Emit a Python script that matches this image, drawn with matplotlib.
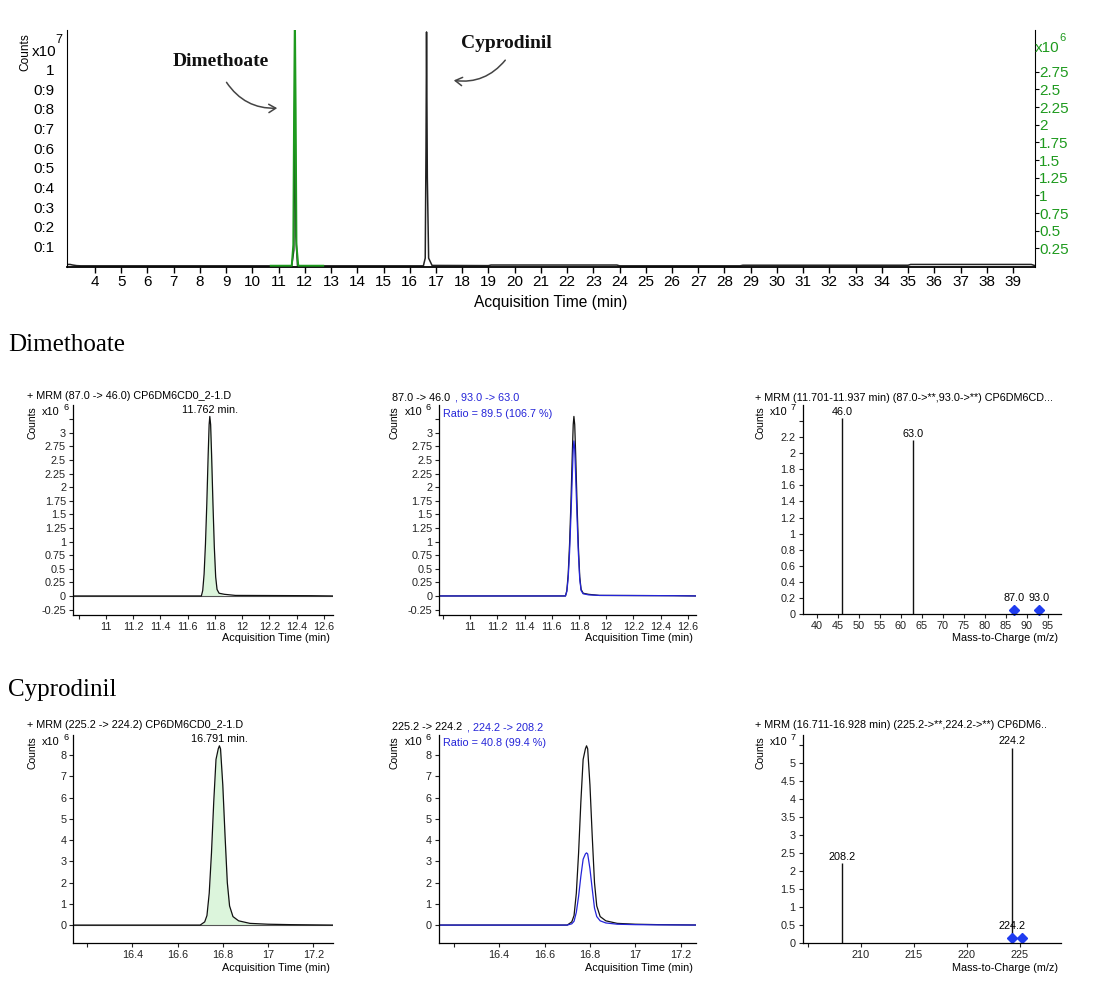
import matplotlib
matplotlib.use('Agg')
import matplotlib.pyplot as plt
from matplotlib.patches import FancyArrowPatch

W, H = 1114, 981
SANS = 'Liberation Sans'
SERIF = 'Liberation Serif'
BLACK = '#111111'
GREEN = '#1e9a1e'
BLUE = '#2424d8'
FILL = '#dcf5dc'

# overview run: total signal (x10^7, left axis) and extracted ion (x10^6, right axis)
tic_time = [2.92, 3.05, 3.15, 3.30, 3.45, 11.50, 11.58, 11.62, 11.66, 11.72, 16.52, 16.59,
            16.62, 16.64, 16.67, 16.72, 16.85, 19.0, 19.1, 23.9, 24.0, 28.6, 28.7, 35.0,
            35.1, 39.7, 39.84]
tic_counts = [0.008, 0.008, 0.005, 0.002, 0.001, 0.001, 0.08, 0.95, 0.15, 0.001, 0.001, 0.04,
              0.6, 1.19, 0.45, 0.04, 0.003, 0.002, 0.005, 0.005, 0.001, 0.001, 0.004, 0.004,
              0.008, 0.008, 0.002]
ion_time = [10.70, 11.50, 11.56, 11.59, 11.62, 11.65, 11.68, 11.75, 12.70]
ion_counts = [0.004, 0.004, 0.3, 2.2, 3.6, 2.2, 0.3, 0.004, 0.004]

top_xticks = list(range(4, 40))
top_left_ticks = [0.1, 0.2, 0.3, 0.4, 0.5, 0.6, 0.7, 0.8, 0.9, 1.0]
top_left_labels = ['0:1', '0:2', '0:3', '0:4', '0:5', '0:6', '0:7', '0:8', '0:9', '1']
top_right_ticks = [0.25, 0.5, 0.75, 1.0, 1.25, 1.5, 1.75, 2.0, 2.25, 2.5, 2.75]
top_right_labels = ['0.25', '0.5', '0.75', '1', '1.25', '1.5', '1.75', '2', '2.25', '2.5', '2.75']

# Dimethoate extracted chromatograms (x10^6)
dim_time = [10.76, 11.60, 11.70, 11.71, 11.72, 11.73, 11.74, 11.75, 11.757, 11.762, 11.768,
            11.775, 11.785, 11.795, 11.805, 11.815, 11.83, 11.87, 11.95, 12.50, 12.67]
dim_quant = [0.0, 0.0, 0.0, 0.1, 0.4, 0.95, 1.7, 2.6, 3.15, 3.30, 3.15,
             2.6, 1.7, 0.9, 0.35, 0.12, 0.05, 0.03, 0.01, 0.005, 0.0]
dim_qual = [0.0, 0.0, 0.0, 0.08, 0.33, 0.8, 1.45, 2.2, 2.7, 2.85, 2.7,
            2.2, 1.45, 0.78, 0.3, 0.1, 0.04, 0.02, 0.01, 0.005, 0.0]
dim_rt = 11.762
dim_mz = [46.0, 63.0]
dim_abund = [2.43, 2.16]          # x10^7
dim_prec_mz = [87.0, 93.0]
dim_prec_abund = [0.05, 0.05]

# Cyprodinil extracted chromatograms (x10^6)
cyp_time = [16.14, 16.70, 16.72, 16.73, 16.74, 16.75, 16.76, 16.77, 16.78, 16.785, 16.79,
            16.80, 16.81, 16.82, 16.83, 16.845, 16.87, 16.92, 17.00, 17.10, 17.29]
cyp_quant = [0.0, 0.0, 0.15, 0.45, 1.5, 3.4, 5.8, 7.8, 8.3, 8.44, 8.3,
             6.6, 4.2, 2.0, 0.9, 0.4, 0.2, 0.08, 0.04, 0.02, 0.0]
cyp_qual = [0.0, 0.0, 0.06, 0.18, 0.6, 1.35, 2.3, 3.1, 3.35, 3.4, 3.35,
            2.65, 1.7, 0.8, 0.4, 0.2, 0.1, 0.04, 0.02, 0.01, 0.0]
cyp_rt = 16.785
cyp_mz = [208.2, 224.2]
cyp_abund = [2.21, 5.44]          # x10^7
cyp_prec_mz = [224.2, 225.2]
cyp_prec_abund = [0.12, 0.12]

rt_label = {'dim': '11.762', 'cyp': '16.791'}

fig = plt.figure(figsize=(W / 100, H / 100), dpi=100)
plt.rcParams['font.family'] = [SANS, 'DejaVu Sans']


def rect(l, t, r, b):
    return [l / W, 1 - b / H, (r - l) / W, (b - t) / H]


def ftext(x, y, s, **kw):
    return fig.text(x / W, 1 - y / H, s, **kw)


# ---------------- overview chromatogram ----------------
ax = fig.add_axes(rect(66.7, 30, 1035, 267))
ax.plot(tic_time, tic_counts, color='#222222', lw=1.1)
ax.set_xlim(2.92, 39.84)
ax.set_ylim(-0.005, 1.2)
ax.set_xticks(top_xticks)
ax.set_xticklabels([str(t) for t in top_xticks])
ax.set_yticks(top_left_ticks)
ax.set_yticklabels(top_left_labels)
ax.tick_params(axis='x', length=4, width=1, labelsize=11, pad=2)
ax.tick_params(axis='y', length=0, labelsize=11, pad=9)
for s in ('top', 'right'):
    ax.spines[s].set_visible(False)
ax.spines['bottom'].set_linewidth(1.3)
ax.set_xlabel('Acquisition Time (min)', fontsize=11.2, labelpad=4)

ax2 = ax.twinx()
ax2.plot(ion_time, ion_counts, color=GREEN, lw=1.4)
ax2.set_ylim(-0.014, 3.34)
ax2.set_yticks(top_right_ticks)
ax2.set_yticklabels(top_right_labels)
ax2.tick_params(axis='y', length=3, pad=0, labelsize=11, labelcolor=GREEN)
for s in ('top', 'left', 'bottom'):
    ax2.spines[s].set_visible(False)

ftext(25, 52, 'Counts', rotation=90, ha='center', va='center', fontsize=8.6)
ftext(32, 52, 'x10', ha='left', va='center', fontsize=11)
ftext(55, 40, '7', ha='left', va='center', fontsize=9)
ftext(1035, 48, 'x10', ha='left', va='center', fontsize=11, color=GREEN)
ftext(1059, 38, '6', ha='left', va='center', fontsize=8, color=GREEN)

ftext(221, 61, 'Dimethoate', family=SERIF, fontweight='bold', fontsize=14,
      ha='center', va='center', color='#111111')
ftext(506, 43, 'Cyprodinil', family=SERIF, fontweight='bold', fontsize=14,
      ha='center', va='center', color='#111111')
arrow_kw = dict(arrowstyle='->,head_length=5,head_width=3', color='#444444', lw=1.1,
                transform=None)
fig.add_artist(FancyArrowPatch((225, H - 80), (280, H - 108),
                               connectionstyle='arc3,rad=0.3', **arrow_kw))
fig.add_artist(FancyArrowPatch((507, H - 58), (451, H - 80),
                               connectionstyle='arc3,rad=-0.3', **arrow_kw))

ftext(8, 345, 'Dimethoate', family=SERIF, fontsize=18, ha='left', va='center')
ftext(8, 690, 'Cyprodinil', family=SERIF, fontsize=18, ha='left', va='center')


# ---------------- small panels ----------------
def small_axes(box, xlim, ylim, xticks, xlabels, yticks, ylabels):
    a = fig.add_axes(rect(*box))
    a.set_xlim(*xlim)
    a.set_ylim(*ylim)
    a.set_xticks(xticks)
    a.set_xticklabels(xlabels)
    a.set_yticks(yticks)
    a.set_yticklabels(ylabels)
    a.tick_params(labelsize=7.8, length=3, width=0.8, pad=2, colors='#222222')
    for s in ('top', 'right'):
        a.spines[s].set_visible(False)
    for s in ('left', 'bottom'):
        a.spines[s].set_linewidth(0.9)
    return a


def panel_text(x0, y0, power, xlabel, right):
    ftext(x0, y0 + 27, 'Counts', rotation=90, ha='center', va='center', fontsize=7.5)
    ftext(x0 + 10, y0 + 16, 'x10', ha='left', va='center', fontsize=7.8)
    ftext(x0 + 31, y0 + 12, power, ha='left', va='center', fontsize=6.5)
    ftext(right, y0 + 242, xlabel, ha='right', va='center', fontsize=7.8)


chrom_x1 = [10.8, 11.0, 11.2, 11.4, 11.6, 11.8, 12.0, 12.2, 12.4, 12.6]
chrom_x1_lab = ['', '11', '11.2', '11.4', '11.6', '11.8', '12', '12.2', '12.4', '12.6']
chrom_y1 = [-0.25, 0, 0.25, 0.5, 0.75, 1.0, 1.25, 1.5, 1.75, 2.0, 2.25, 2.5, 2.75, 3.0, 3.25]
chrom_y1_lab = ['-0.25', '0', '0.25', '0.5', '0.75', '1', '1.25', '1.5', '1.75', '2',
                '2.25', '2.5', '2.75', '3', '']
chrom_x2 = [16.2, 16.4, 16.6, 16.8, 17.0, 17.2]
chrom_x2_lab = ['', '16.4', '16.6', '16.8', '17', '17.2']
chrom_y2 = [0, 1, 2, 3, 4, 5, 6, 7, 8]
chrom_y2_lab = ['0', '1', '2', '3', '4', '5', '6', '7', '8']
ms_x1 = [40, 45, 50, 55, 60, 65, 70, 75, 80, 85, 90, 95]
ms_y1 = [0, 0.2, 0.4, 0.6, 0.8, 1.0, 1.2, 1.4, 1.6, 1.8, 2.0, 2.2, 2.4]
ms_y1_lab = ['0', '0.2', '0.4', '0.6', '0.8', '1', '1.2', '1.4', '1.6', '1.8', '2', '2.2', '']
ms_x2 = [205, 210, 215, 220, 225]
ms_x2_lab = ['', '210', '215', '220', '225']
ms_y2 = [0, 0.5, 1.0, 1.5, 2.0, 2.5, 3.0, 3.5, 4.0, 4.5, 5.0, 5.5]
ms_y2_lab = ['0', '0.5', '1', '1.5', '2', '2.5', '3', '3.5', '4', '4.5', '5', '']


def quant_panel(box, xlim, ylim, xt, xl, yt, yl, t, q, rt, peak_lo, peak_hi, key):
    a = small_axes(box, xlim, ylim, xt, xl, yt, yl)
    a.fill_between(t, q, 0, where=[peak_lo <= v <= peak_hi for v in t],
                   color=FILL, lw=0, interpolate=True)
    a.plot(t, q, color=BLACK, lw=0.9)
    a.axhline(0, color='#555555', lw=0.8, zorder=1)
    a.annotate(f'{rt_label[key]} min.', xy=(rt, max(q)), xytext=(0, 1),
               textcoords='offset points', ha='center', va='bottom', fontsize=7.8)
    return a


def qual_panel(box, xlim, ylim, xt, xl, yt, yl, t, q, qq, tx, ty, names, ratio):
    a = small_axes(box, xlim, ylim, xt, xl, yt, yl)
    a.plot(t, q, color=BLACK, lw=0.9)
    a.plot(t, qq, color=BLUE, lw=0.9)
    t1 = ftext(tx, ty, names[0], ha='left', va='center', fontsize=7.8)
    a.annotate(names[1], xy=(1, 0.5), xycoords=t1, xytext=(4, 0),
               textcoords='offset points', ha='left', va='center', fontsize=7.8,
               color=BLUE)
    ftext(tx + 51, ty + 16, ratio, ha='left', va='center', fontsize=7.8, color=BLUE)
    return a


def ms_panel(box, xlim, ylim, xt, xl, yt, yl, mz, ab, pmz, pab, plabels):
    a = small_axes(box, xlim, ylim, xt, xl, yt, yl)
    a.vlines(mz, 0, ab, color=BLACK, lw=1.0)
    for m, v in zip(mz, ab):
        a.annotate(f'{m:.1f}', xy=(m, v), xytext=(0, 1), textcoords='offset points',
                   ha='center', va='bottom', fontsize=7.8)
    a.plot(pmz, pab, linestyle='none', marker='D', markersize=5.5, color='#1f3cf0',
           clip_on=False)
    for m, v, lab in zip(pmz, pab, plabels):
        if lab:
            a.annotate(lab, xy=(m, v), xytext=(0, 5), textcoords='offset points',
                       ha='center', va='bottom', fontsize=7.8)
    return a


# Dimethoate row
quant_panel((73, 405, 333, 615), (10.758, 12.666), (-0.35, 3.51), chrom_x1, chrom_x1_lab,
            chrom_y1, chrom_y1_lab, dim_time, dim_quant, dim_rt, 11.70, 11.83, 'dim')
ftext(27, 396, '+ MRM (87.0 -> 46.0) CP6DM6CD0_2-1.D', ha='left', va='center', fontsize=7.8)
panel_text(32, 396, '6', 'Acquisition Time (min)', 330)

qual_panel((439.3, 405, 696, 615), (10.772, 12.66), (-0.35, 3.51), chrom_x1, chrom_x1_lab,
           chrom_y1, chrom_y1_lab, dim_time, dim_quant, dim_qual, 391.7, 398,
           ('87.0 -> 46.0', ', 93.0 -> 63.0'), 'Ratio = 89.5 (106.7 %)')
panel_text(395, 396, '6', 'Acquisition Time (min)', 693)

ms_panel((802.7, 405, 1060.7, 614.3), (36.67, 98.1), (0, 2.596), ms_x1,
         [str(v) for v in ms_x1], ms_y1, ms_y1_lab, dim_mz, dim_abund,
         dim_prec_mz, dim_prec_abund, ['87.0', '93.0'])
ftext(755, 398, '+ MRM (11.701-11.937 min) (87.0->**,93.0->**) CP6DM6CD...',
      ha='left', va='center', fontsize=7.8)
panel_text(760, 396, '7', 'Mass-to-Charge (m/z)', 1058)

# Cyprodinil row
quant_panel((73.3, 735, 332.7, 942.7), (16.139, 17.286), (-0.83, 8.95), chrom_x2,
            chrom_x2_lab, chrom_y2, chrom_y2_lab, cyp_time, cyp_quant, cyp_rt,
            16.70, 16.92, 'cyp')
ftext(27, 725, '+ MRM (225.2 -> 224.2) CP6DM6CD0_2-1.D', ha='left', va='center', fontsize=7.8)
panel_text(32, 726, '6', 'Acquisition Time (min)', 330)

qual_panel((438.7, 735, 696, 942.7), (16.134, 17.267), (-0.83, 8.95), chrom_x2,
           chrom_x2_lab, chrom_y2, chrom_y2_lab, cyp_time, cyp_quant, cyp_qual, 391.7, 727,
           ('225.2 -> 224.2', ', 224.2 -> 208.2'), 'Ratio = 40.8 (99.4 %)')
panel_text(395, 726, '6', 'Acquisition Time (min)', 693)

ms_panel((802.7, 735, 1060.7, 942.7), (204.5, 228.84), (0, 5.79), ms_x2, ms_x2_lab,
         ms_y2, ms_y2_lab, cyp_mz, cyp_abund, cyp_prec_mz, cyp_prec_abund, ['224.2', ''])
ftext(755, 725, '+ MRM (16.711-16.928 min) (225.2->**,224.2->**) CP6DM6..',
      ha='left', va='center', fontsize=7.8)
panel_text(760, 726, '7', 'Mass-to-Charge (m/z)', 1058)

fig.savefig('out.png', dpi=100, facecolor='white')
